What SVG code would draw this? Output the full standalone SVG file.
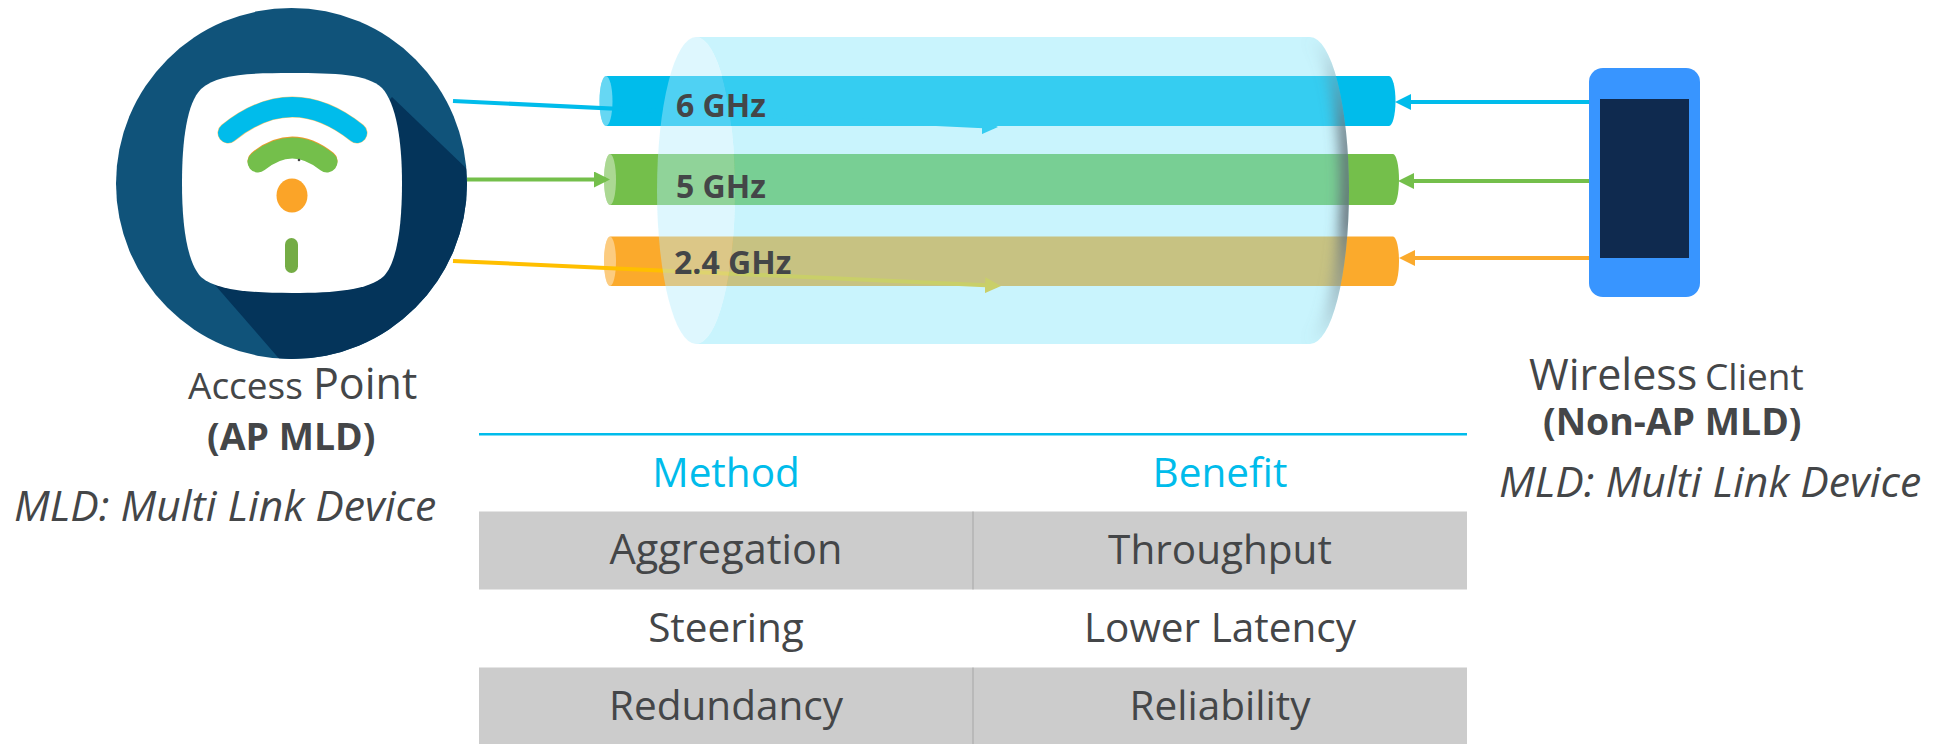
<svg xmlns="http://www.w3.org/2000/svg" width="1937" height="744" viewBox="0 0 1937 744">
<style>
text{font-family:"Open Sans","Noto Sans","Liberation Sans",sans-serif;fill:#444648}
.band{font-weight:700;font-size:32px}
.b{font-weight:700;font-size:37.400px}
.i{font-style:italic;font-size:42.700px}
.lg{font-size:43px}
.sm{font-size:37px}
.cell{font-size:40.500px;text-anchor:middle}
.head{font-size:40.500px;text-anchor:middle;fill:#00bceb}
.cap{fill:#fff;fill-opacity:.4}
.ln{fill:none;stroke-width:4}
</style>
<defs>
<marker id="mB" markerUnits="userSpaceOnUse" markerWidth="20" markerHeight="20" refX="12" refY="8" orient="auto"><path d="M0,0L16,8L0,16z" fill="#00bceb"/></marker>
<marker id="mG" markerUnits="userSpaceOnUse" markerWidth="20" markerHeight="20" refX="12" refY="8" orient="auto"><path d="M0,0L16,8L0,16z" fill="#74bf4b"/></marker>
<marker id="mO" markerUnits="userSpaceOnUse" markerWidth="20" markerHeight="20" refX="12" refY="8" orient="auto"><path d="M0,0L16,8L0,16z" fill="#fbaa2c"/></marker>
<marker id="mY" markerUnits="userSpaceOnUse" markerWidth="20" markerHeight="20" refX="12" refY="8" orient="auto"><path d="M0,0L16,8L0,16z" fill="#ffbf00"/></marker>
<clipPath id="circ"><circle cx="291.5" cy="183.5" r="175.5"/></clipPath>
<clipPath id="body"><path d="M696,37H1310A39,153.5 0 0 1 1310,344H696A39,153.5 0 0 0 696,37z"/></clipPath>
<filter id="soft" x="-100%" y="-20%" width="300%" height="140%"><feGaussianBlur stdDeviation="7"/></filter>
<linearGradient id="edge" gradientUnits="userSpaceOnUse" x1="0" y1="37" x2="0" y2="344">
<stop offset="0" stop-color="#7c8a94" stop-opacity="0"/>
<stop offset=".3" stop-color="#5f6a72" stop-opacity=".85"/>
<stop offset=".6" stop-color="#5f6a72" stop-opacity="1"/>
<stop offset=".85" stop-color="#7c8a94" stop-opacity=".5"/>
<stop offset="1" stop-color="#7c8a94" stop-opacity="0"/>
</linearGradient>
</defs>
<rect width="1937" height="744" fill="#fff"/>

<g id="access-point">
<circle cx="291.5" cy="183.5" r="175.5" fill="#10537a"/>
<path clip-path="url(#circ)" d="M392,97L470,172V362H282L215,285z" fill="#04345a"/>
<path d="M292,73C335,73 367,74 382,88C396,103 402,140 402,183C402,226 397,262 384,276C369,290 335,293 292,293C249,293 216,290 201,277C187,262 182,226 182,183C182,140 187,103 201,89C217,74 249,73 292,73z" fill="#fff"/>
<path d="M228,133Q292,81 357,133" fill="none" stroke="#f4c873" stroke-width="21" stroke-linecap="round"/>
<path d="M228,133Q292,81 357,133" fill="none" stroke="#00bceb" stroke-width="20" stroke-linecap="round"/>
<path d="M258,161Q292,133 327,161" fill="none" stroke="#ee9a2c" stroke-width="21" stroke-linecap="round"/>
<path d="M258,162Q292,134 327,162" fill="none" stroke="#74bf4b" stroke-width="21" stroke-linecap="round"/>
<circle cx="299" cy="160" r="1.3" fill="#444"/>
<ellipse cx="292" cy="195.500" rx="15.500" ry="17" fill="#fba428"/>
<rect x="285" y="238" width="13" height="35" rx="6.5" fill="#74ac45"/>
<text x="188" y="399" class="sm">Access</text>
<text x="313" y="399" class="lg">Point</text>
<text x="207" y="450" class="b">(AP MLD)</text>
<text x="14" y="521" class="i">MLD: Multi Link Device</text>
</g>

<g id="band-6ghz">
<path d="M606,76H1389A6.5,25 0 0 1 1389,126H606A6.5,25 0 0 1 606,76z" fill="#00bceb"/>
<ellipse class="cap" cx="606" cy="101" rx="6.5" ry="25"/>
</g>
<g id="band-5ghz">
<path d="M610,154H1393A6,25.5 0 0 1 1393,205H610A6,25.5 0 0 1 610,154z" fill="#74bf4b"/>
<ellipse class="cap" cx="610" cy="179.500" rx="6" ry="25.500"/>
</g>
<g id="band-24ghz">
<path d="M610,236.500H1393A6,24.750 0 0 1 1393,286H610A6,24.750 0 0 1 610,236.500z" fill="#fbaa2c"/>
<ellipse class="cap" cx="610" cy="261.250" rx="6" ry="24.750"/>
</g>

<g id="connectors">
<path class="ln" d="M453,101L994,126.800" stroke="#00bceb" marker-end="url(#mB)"/>
<path class="ln" d="M453,261L997,285.800" stroke="#ffbf00" marker-end="url(#mY)"/>
<path class="ln" d="M467,179.500H606" stroke="#74bf4b" marker-end="url(#mG)"/>
<path class="ln" d="M1589,102H1399" stroke="#00bceb" marker-end="url(#mB)"/>
<path class="ln" d="M1589,181H1402" stroke="#74bf4b" marker-end="url(#mG)"/>
<path class="ln" d="M1589,258H1403" stroke="#fbaa2c" marker-end="url(#mO)"/>
</g>

<g id="channel">
<path d="M696,37H1310A39,153.5 0 0 1 1310,344H696A39,153.5 0 0 0 696,37z" fill="#7ee5fa" fill-opacity=".42"/>
<g clip-path="url(#body)"><path d="M1310,37A39,153.5 0 0 1 1310,344" fill="none" stroke="url(#edge)" stroke-width="16" filter="url(#soft)"/></g>
<ellipse cx="696" cy="190.500" rx="39" ry="153.500" fill="#b5ecfc" fill-opacity=".44"/>
</g>

<g id="band-labels">
<text x="676" y="117" class="band">6 GHz</text>
<text x="676" y="198" class="band">5 GHz</text>
<text x="674" y="274" class="band">2.4 GHz</text>
</g>

<g id="wireless-client">
<rect x="1589" y="68" width="111" height="229" rx="14" fill="#3895ff"/>
<rect x="1600" y="99" width="89" height="159" fill="#0f2a4f"/>
<text x="1529" y="390" class="lg">Wireless</text>
<text x="1705" y="390" class="sm">Client</text>
<text x="1543" y="435" class="b">(Non-AP MLD)</text>
<text x="1499" y="497" class="i">MLD: Multi Link Device</text>
</g>

<g id="table">
<rect x="479" y="433" width="988" height="2.500" fill="#00bceb"/>
<rect x="479" y="511.500" width="988" height="78" fill="#ccc"/>
<rect x="479" y="667.500" width="988" height="76.500" fill="#ccc"/>
<path d="M973,511.500V589.500M973,667.500V744" stroke="#a6a6a6" stroke-width="1"/>
<text x="726" y="487" class="head">Method</text>
<text x="1220" y="487" class="head">Benefit</text>
<text x="726" y="564" class="cell" style="font-size:41.500px">Aggregation</text>
<text x="1220" y="564" class="cell">Throughput</text>
<text x="726" y="642" class="cell">Steering</text>
<text x="1220" y="642" class="cell">Lower Latency</text>
<text x="726" y="720" class="cell">Redundancy</text>
<text x="1220" y="720" class="cell">Reliability</text>
</g>
</svg>
